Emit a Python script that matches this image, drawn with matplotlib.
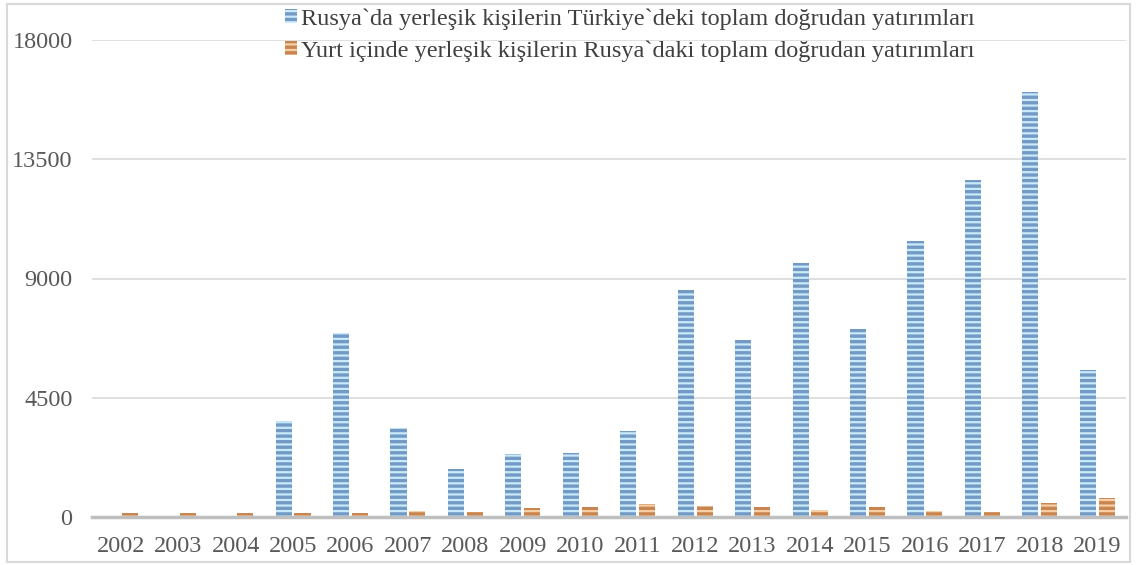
import numpy as np
import matplotlib.pyplot as plt
from matplotlib.patches import Rectangle

years = [str(y) for y in range(2002, 2020)]
rus_in_tr = [0, 0, 0, 3620, 6940, 3360, 1810, 2380, 2400, 3250,
             8570, 6680, 9590, 7090, 10420, 12720, 16040, 5550]
tr_in_rus = [150, 150, 150, 150, 150, 230, 190, 340, 380, 500,
             430, 390, 280, 390, 240, 200, 540, 730]
yticks = [0, 4500, 9000, 13500, 18000]

label_blue = "Rusya`da yerleşik kişilerin Türkiye`deki toplam doğrudan yatırımları"
label_orange = "Yurt içinde yerleşik kişilerin Rusya`daki toplam doğrudan yatırımları"

plt.rcParams['font.family'] = ['Liberation Serif', 'DejaVu Serif']
plt.rcParams['hatch.linewidth'] = 2.4

fig = plt.figure(figsize=(11.37, 5.65), dpi=100)
ax = fig.add_axes([92 / 1137, 1 - 517 / 565, (1126 - 92) / 1137, (517 - 40) / 565])

x = np.arange(len(years))
w = 0.28
ax.bar(x - 0.165, rus_in_tr, w, color='#c9eafa', edgecolor='#729ac5',
       linewidth=0, hatch='---', label=label_blue, zorder=3)
ax.bar(x + 0.165, tr_in_rus, w, color='#f6cfa6', edgecolor='#c9854f',
       linewidth=0, hatch='---', label=label_orange, zorder=3)

ax.set_xlim(-0.5, len(years) - 0.5)
ax.set_ylim(0, 18000)
ax.set_yticks(yticks)
ax.set_xticks(x)
ax.set_xticklabels(years)
ax.tick_params(length=0, labelsize=17.5, labelcolor='#595959')
ax.tick_params(axis='x', pad=14)
ax.tick_params(axis='y', pad=14)
ax.grid(axis='y', color='#d9d9d9', linewidth=1.2, zorder=0)
for s in ['top', 'right', 'left']:
    ax.spines[s].set_visible(False)
ax.spines['bottom'].set_color('#bfbfbf')
ax.spines['bottom'].set_linewidth(2.5)
ax.spines['bottom'].set_zorder(4)

fig.legend(loc='center', bbox_to_anchor=(630 / 1137, 1 - 35 / 565), ncol=1,
           frameon=False, fontsize=17.5, handlelength=0.5, handleheight=0.5,
           handletextpad=0.15, labelspacing=0.42, labelcolor='#404040')

fig.patches.append(Rectangle((7 / 1137, 3 / 565), 1123 / 1137, 558 / 565,
                             transform=fig.transFigure, fill=False,
                             edgecolor='#d9d9d9', linewidth=1.5))

fig.savefig('out.png', dpi=100)
